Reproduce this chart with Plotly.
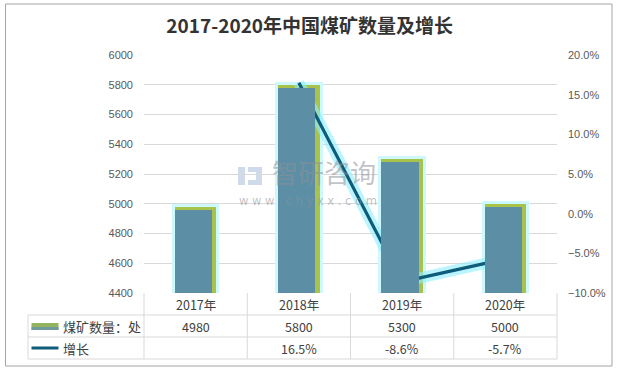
import plotly.graph_objects as go

categories = ["2017年", "2018年", "2019年", "2020年"]
mine_counts = [4980, 5800, 5300, 5000]
growth_pct = [None, 16.5, -8.6, -5.7]
growth_labels = ["", "16.5%", "-8.6%", "-5.7%"]
series_names = ["煤矿数量：处", "增长"]
title_text = "2017-2020年中国煤矿数量及增长"

W, H = 617, 370
L, R, T, B = 144, 60, 55, 77
PW, PH = W - L - R, H - T - B


def px(p):
    return (p - L) / PW


def py(p):
    return (H - B - p) / PH


FONT = "Noto Sans CJK SC, Noto Sans, sans-serif"
TXT = "#404040"
GRID = "#d9d9d9"

fig = go.Figure()

# glow behind bars
fig.add_trace(go.Bar(x=categories, y=mine_counts, width=0.4, offset=-0.2,
                     marker=dict(color="#c4f6fd", line=dict(color="#cdf8fe", width=6)),
                     hoverinfo="skip", showlegend=False))
# yellow-green edge
fig.add_trace(go.Bar(x=categories, y=mine_counts, width=0.4, offset=-0.2,
                     marker=dict(color="#a9c24c", line=dict(width=0)),
                     showlegend=False, name=series_names[0]))
# blue body (slightly lowered via a shifted overlay axis)
fig.add_trace(go.Bar(x=categories, y=mine_counts, width=0.36, offset=-0.2,
                     marker=dict(color="#5c8fa6", line=dict(width=0)),
                     yaxis="y3", hoverinfo="skip", showlegend=False))

# growth line glow + line
fig.add_trace(go.Scatter(x=categories, y=growth_pct, mode="lines", yaxis="y2",
                         line=dict(color="rgba(140,238,255,0.6)", width=11),
                         hoverinfo="skip", showlegend=False, connectgaps=False))
fig.add_trace(go.Scatter(x=categories, y=growth_pct, mode="lines", yaxis="y2",
                         line=dict(color="#0e5c7a", width=3.2),
                         name=series_names[1], showlegend=False))

shapes = []
# outer border
shapes.append(dict(type="rect", xref="paper", yref="paper",
                   x0=px(5.5), x1=px(612), y0=py(366), y1=py(4),
                   line=dict(color="#a5a5a5", width=1), layer="below"))
# table horizontal lines
for yy in (315, 337, 359):
    shapes.append(dict(type="line", xref="paper", yref="paper",
                       x0=px(28), x1=1, y0=py(yy), y1=py(yy),
                       line=dict(color=GRID, width=1)))
# table vertical lines
for xx in (0, 1):
    shapes.append(dict(type="line", xref="paper", yref="paper",
                       x0=xx, x1=xx, y0=py(293), y1=py(359),
                       line=dict(color=GRID, width=1)))
for i in range(len(categories) - 1):
    shapes.append(dict(type="line", xref="x", yref="paper",
                       x0=i + 0.5, x1=i + 0.5, y0=py(293), y1=py(359),
                       line=dict(color=GRID, width=1)))
shapes.append(dict(type="line", xref="paper", yref="paper",
                   x0=px(28), x1=px(28), y0=py(315), y1=py(359),
                   line=dict(color=GRID, width=1)))
# legend icons
shapes.append(dict(type="rect", xref="paper", yref="paper",
                   x0=px(31.5), x1=px(58.5), y0=py(330), y1=py(323),
                   fillcolor="#93b35e", line=dict(width=0)))
shapes.append(dict(type="rect", xref="paper", yref="paper",
                   x0=px(31.5), x1=px(58.5), y0=py(330), y1=py(327),
                   fillcolor="#6e9a9c", line=dict(width=0)))
shapes.append(dict(type="line", xref="paper", yref="paper",
                   x0=px(31.5), x1=px(58.5), y0=py(348), y1=py(348),
                   line=dict(color="#0e5c7a", width=3)))
# watermark icon blocks
for (a, b, c, d) in [(238, 245, 167, 185), (248, 262, 167, 172), (248, 262, 180, 185), (256, 262, 172, 180)]:
    shapes.append(dict(type="rect", xref="paper", yref="paper",
                       x0=px(a), x1=px(b), y0=py(d), y1=py(c),
                       fillcolor="rgba(175,195,220,0.6)", line=dict(width=0), layer="below"))

annotations = []
cell_font = dict(size=12.5, color=TXT, family=FONT)
for i, c in enumerate(categories):
    annotations.append(dict(x=i, y=py(304), xref="x", yref="paper", text=c,
                            xanchor="center", yanchor="middle", showarrow=False, font=cell_font))
    annotations.append(dict(x=i, y=py(326), xref="x", yref="paper", text=str(mine_counts[i]),
                            xanchor="center", yanchor="middle", showarrow=False, font=cell_font))
    annotations.append(dict(x=i, y=py(348), xref="x", yref="paper", text=growth_labels[i],
                            xanchor="center", yanchor="middle", showarrow=False, font=cell_font))
annotations.append(dict(x=px(61), y=py(326), xref="paper", yref="paper", text=series_names[0],
                        xanchor="left", yanchor="middle", showarrow=False,
                        font=dict(size=13, color=TXT, family=FONT)))
annotations.append(dict(x=px(61), y=py(348), xref="paper", yref="paper", text=series_names[1],
                        xanchor="left", yanchor="middle", showarrow=False,
                        font=dict(size=13, color=TXT, family=FONT)))
# watermark text
annotations.append(dict(x=px(324), y=py(192), xref="paper", yref="paper", text="智研咨询",
                        xanchor="center", yanchor="bottom", showarrow=False,
                        font=dict(size=26, color="rgba(140,145,150,0.55)", family=FONT)))
annotations.append(dict(x=px(308), y=py(192), xref="paper", yref="paper",
                        text="w w w . c h y x x . c o m", xanchor="center", yanchor="top",
                        showarrow=False, font=dict(size=11.5, color="rgba(140,145,150,0.55)", family="DejaVu Sans")))

fig.update_layout(
    width=W, height=H,
    margin=dict(l=L, r=R, t=T, b=B),
    paper_bgcolor="white", plot_bgcolor="white",
    barmode="overlay",
    bargap=0,
    title=dict(text="<b>" + title_text + "</b>", x=0.502, xref="container", xanchor="center",
               y=1 - 26 / H, yref="container", yanchor="middle",
               font=dict(size=19, color="#333333", family=FONT)),
    xaxis=dict(type="category", range=[-0.5, 3.5], showticklabels=False, showgrid=False,
               zeroline=False, showline=False, ticks=""),
    yaxis=dict(range=[4400, 6000], dtick=200, showgrid=True, gridcolor=GRID, gridwidth=1,
               zeroline=False, showline=False, ticks="",
               tickfont=dict(size=11, color="#595959", family="Liberation Sans, Arial"),
               ticklabelstandoff=10),
    yaxis2=dict(range=[-10, 20], dtick=5, tickformat=".1f", ticksuffix="%", overlaying="y",
                side="right", showgrid=False, zeroline=False, showline=False, ticks="",
                tickfont=dict(size=11, color="#595959", family="Liberation Sans, Arial"),
                ticklabelstandoff=10),
    yaxis3=dict(range=[4422, 6022], overlaying="y", visible=False, showgrid=False),
    shapes=shapes,
    annotations=annotations,
    showlegend=False,
)

fig.write_html("out.html", config={"displayModeBar": False},
               post_script="document.body.style.margin='0';document.body.style.padding='0';")
